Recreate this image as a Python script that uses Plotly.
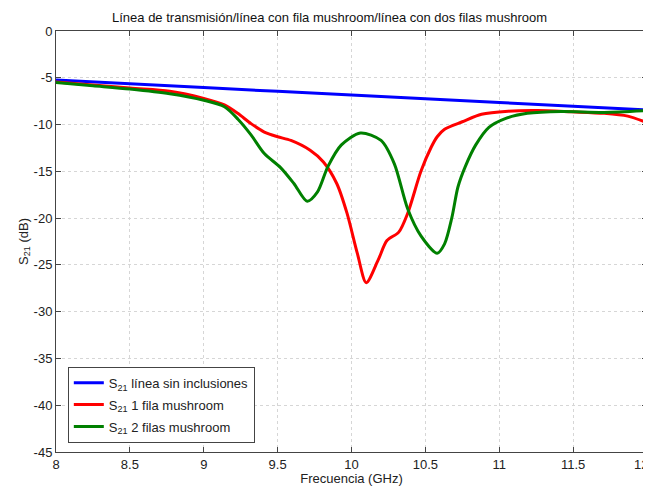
import plotly.graph_objects as go

# Frequencies (GHz) and S21 (dB)
freq_blue = [8.0, 9.0, 10.0, 11.0, 12.0]
s21_blue = [-5.25, -6.05, -6.85, -7.65, -8.45]

freq_red = [8.0, 8.5, 8.77, 9.0, 9.14, 9.23, 9.32, 9.41, 9.5, 9.59, 9.72, 9.81, 9.90, 9.97,
            10.04, 10.10, 10.18, 10.24, 10.32, 10.38, 10.47, 10.54, 10.58, 10.63,
            10.75, 10.88, 11.06, 11.26, 11.49, 11.71, 11.87, 12.0]
s21_red = [-5.45, -6.1, -6.43, -7.2, -7.9, -8.8, -9.9, -10.8, -11.3, -11.7, -12.75, -14.0, -16.3, -19.5,
           -23.8, -26.9, -24.5, -22.4, -21.5, -19.5, -15.0, -12.4, -11.3, -10.5,
           -9.7, -8.9, -8.57, -8.5, -8.64, -8.8, -9.1, -9.8]

freq_green = [8.0, 8.25, 8.5, 8.77, 9.0, 9.14, 9.23, 9.32, 9.41, 9.52, 9.61, 9.70,
              9.77, 9.84, 9.93, 10.06, 10.2, 10.29, 10.38, 10.47, 10.58, 10.63, 10.68,
              10.72, 10.77, 10.84, 10.93, 11.04, 11.19, 11.42, 11.71, 12.0]
s21_green = [-5.5, -5.85, -6.2, -6.7, -7.4, -8.1, -9.4, -11.1, -13.1, -14.6, -16.3, -18.2,
             -17.2, -14.5, -12.2, -10.9, -11.7, -14.2, -19.0, -21.9, -23.75, -22.75, -19.9,
             -16.7, -14.5, -12.2, -10.3, -9.36, -8.8, -8.6, -8.7, -8.5]

names = ["S<sub>21</sub> línea sin inclusiones",
         "S<sub>21</sub> 1 fila mushroom",
         "S<sub>21</sub> 2 filas mushroom"]
colors = ["#0000ff", "#ff0000", "#008000"]

x_ticks = [8, 8.5, 9, 9.5, 10, 10.5, 11, 11.5, 12]
x_ticktext = ["8", "8.5", "9", "9.5", "10", "10.5", "11", "11.5", ""]
x_last_label = "12"  # drawn as an annotation so it stays inside the page
y_ticks = [0, -5, -10, -15, -20, -25, -30, -35, -40, -45]
y_ticktext = ["0", "-5", "-10", "-15", "-20", "-25", "-30", "-35", "-40", "-45"]

fig = go.Figure()
for i, (fx, fy) in enumerate([(freq_blue, s21_blue), (freq_red, s21_red), (freq_green, s21_green)]):
    fig.add_trace(go.Scatter(
        x=fx, y=fy, mode="lines", name=names[i],
        line=dict(color=colors[i], width=3, shape="spline", smoothing=0.8),
        legendgroup=f"g{i}",
    ))

fig.add_annotation(text=x_last_label, xref="paper", yref="paper", x=1, y=0,
                   xanchor="right", yanchor="top", xshift=3, yshift=-3,
                   showarrow=False, font=dict(size=13, color="#222"))

# page has an 8px body margin, so the figure is 8px smaller than the window
fig.update_layout(
    width=643, height=478,
    margin=dict(l=48, r=4, t=23, b=34),
    paper_bgcolor="white", plot_bgcolor="white",
    font=dict(family="Liberation Sans, Arial, sans-serif", size=13, color="#222"),
    title=dict(text="Línea de transmisión/línea con fila mushroom/línea con dos filas mushroom",
               x=0.5, xanchor="center", y=1 - 9 / 478, yanchor="middle",
               font=dict(size=13, color="#111")),
    showlegend=True,
    legend=dict(x=0.02, y=0.022, xanchor="left", yanchor="bottom",
                bgcolor="white", bordercolor="#444", borderwidth=1,
                tracegroupgap=2, font=dict(size=13, color="#222")),
    xaxis=dict(range=[8, 12], tickvals=x_ticks, ticktext=x_ticktext,
               showgrid=True, gridcolor="#d6d6d6", griddash="dot", gridwidth=1,
               showline=True, linecolor="#444", linewidth=1, mirror="ticks",
               ticks="inside", ticklen=5, tickcolor="#444", zeroline=False,
               title=dict(text="Frecuencia (GHz)", standoff=2, font=dict(size=13))),
    yaxis=dict(range=[-45, 0], tickvals=y_ticks, ticktext=y_ticktext,
               showgrid=True, gridcolor="#d6d6d6", griddash="dot", gridwidth=1,
               showline=True, linecolor="#444", linewidth=1, mirror="ticks",
               ticks="inside", ticklen=5, tickcolor="#444", zeroline=False,
               title=dict(text="S<sub>21</sub> (dB)", standoff=2, font=dict(size=13))),
)

fig.write_html("out.html")
